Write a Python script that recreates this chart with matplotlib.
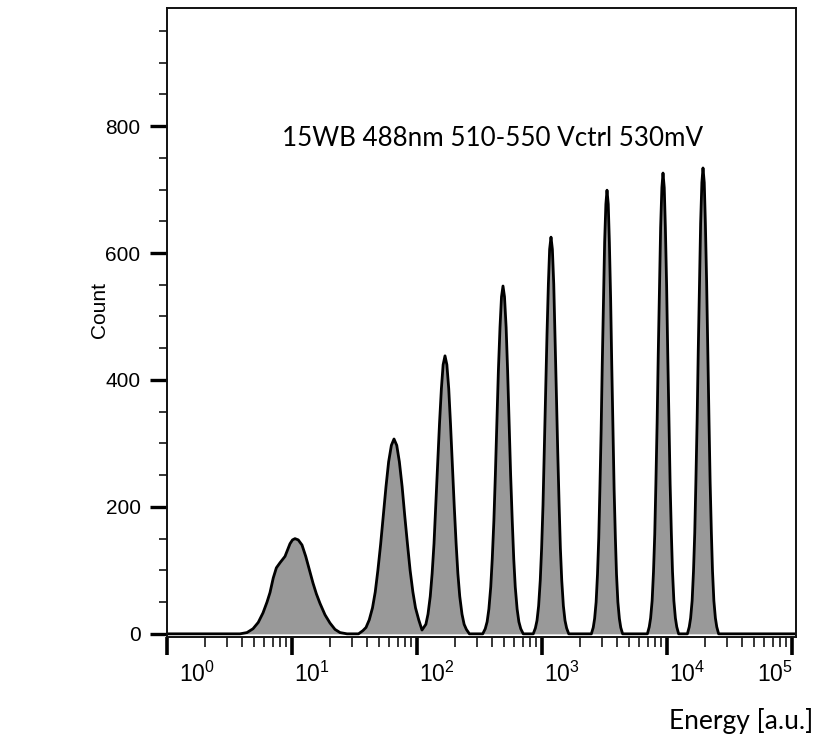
import matplotlib
matplotlib.use('Agg')
import matplotlib.pyplot as plt
import matplotlib.transforms as mtransforms
from matplotlib.ticker import MultipleLocator, LogLocator, NullFormatter
import numpy as np

# histogram outline, one list per peak:
# x in decades (log10 energy), y in counts
p1_x = [0.000, 0.584, 0.640, 0.688, 0.730, 0.768, 0.800, 0.824, 0.850, 0.875, 0.904,
        0.944, 0.984, 1.004, 1.024, 1.050, 1.080, 1.110, 1.140, 1.168, 1.195,
        1.224, 1.264, 1.304, 1.344, 1.384, 1.440]
p1_y = [0, 0, 2, 8, 18, 33, 50, 65, 88, 104, 112,
        122, 142, 148, 150, 148, 140, 122, 100, 80, 63,
        48, 30, 17, 7, 2, 0]

p2_x = [1.532, 1.567, 1.592, 1.618, 1.644, 1.666, 1.687, 1.709, 1.730, 1.752, 1.773, 1.795,
        1.816, 1.838, 1.859, 1.881, 1.902, 1.924, 1.945, 1.967, 1.988, 2.014, 2.040]
p2_y = [0, 5, 10, 22, 41, 66, 100, 141, 186, 232, 271, 297,
        307, 297, 271, 232, 186, 141, 100, 66, 41, 22, 6]

p3_x = [2.071, 2.088, 2.106, 2.121, 2.136, 2.150, 2.165, 2.180, 2.195, 2.209,
        2.224, 2.239, 2.254, 2.268, 2.283, 2.298, 2.313, 2.327, 2.342, 2.360, 2.377, 2.395, 2.419]
p3_y = [15, 31, 59, 95, 142, 201, 266, 331, 386, 424,
        438, 424, 386, 331, 266, 201, 142, 95, 59, 31, 15, 7, 0]

p4_x = [2.526, 2.546, 2.561, 2.575, 2.590, 2.602, 2.615, 2.627, 2.639, 2.651, 2.664, 2.676,
        2.688, 2.700, 2.713, 2.725, 2.737, 2.749, 2.762, 2.774, 2.786, 2.801, 2.815, 2.830, 2.850]
p4_y = [0, 8, 19, 39, 74, 118, 178, 251, 333, 414, 483, 531,
        548, 531, 483, 414, 333, 251, 178, 118, 74, 39, 19, 8, 0]

p5_x = [2.930, 2.947, 2.960, 2.973, 2.986, 2.997, 3.008, 3.018, 3.029, 3.040, 3.051, 3.061,
        3.072, 3.083, 3.094, 3.104, 3.115, 3.126, 3.137, 3.147, 3.158, 3.171, 3.184, 3.197, 3.214]
p5_y = [0, 9, 21, 44, 84, 135, 203, 286, 379, 472, 551, 606,
        625, 606, 551, 472, 379, 286, 203, 135, 84, 44, 21, 9, 0]

p6_x = [3.395, 3.410, 3.421, 3.433, 3.444, 3.454, 3.463, 3.473, 3.482, 3.492, 3.501, 3.511,
        3.520, 3.530, 3.539, 3.549, 3.558, 3.568, 3.577, 3.587, 3.596, 3.607, 3.619, 3.630, 3.645]
p6_y = [0, 10, 24, 50, 94, 151, 227, 320, 424, 528, 617, 677,
        699, 677, 617, 528, 424, 320, 227, 151, 94, 50, 24, 10, 0]

p7_x = [3.843, 3.858, 3.869, 3.881, 3.892, 3.902, 3.911, 3.921, 3.930, 3.940, 3.949, 3.959,
        3.968, 3.978, 3.987, 3.997, 4.006, 4.016, 4.025, 4.035, 4.044, 4.055, 4.067, 4.078, 4.093]
p7_y = [0, 11, 25, 52, 98, 157, 236, 333, 441, 548, 640, 703,
        726, 703, 640, 548, 441, 333, 236, 157, 98, 52, 25, 11, 0]

p8_x = [4.163, 4.178, 4.189, 4.201, 4.212, 4.222, 4.231, 4.241, 4.250, 4.260, 4.269, 4.279,
        4.288, 4.298, 4.307, 4.317, 4.326, 4.336, 4.345, 4.355, 4.364, 4.375, 4.387, 4.398, 4.413,
        5.032]
p8_y = [0, 11, 25, 52, 99, 159, 239, 336, 446, 554, 647, 711,
        734, 711, 647, 554, 446, 336, 239, 159, 99, 52, 25, 11, 0,
        0]

decades = [0, 1, 2, 3, 4, 5]
y_major = [0, 200, 400, 600, 800]

title_text = '15WB 488nm 510-550 Vctrl 530mV'
x_text = 'Energy [a.u.]'
y_text = 'Count'

plt.rcParams['font.family'] = 'Liberation Sans'
plt.rcParams['mathtext.fontset'] = 'custom'
plt.rcParams['mathtext.rm'] = 'Liberation Sans'
plt.rcParams['mathtext.default'] = 'regular'

log_energy = np.concatenate([p1_x, p2_x, p3_x, p4_x, p5_x, p6_x, p7_x, p8_x])
count = np.concatenate([p1_y, p2_y, p3_y, p4_y, p5_y, p6_y, p7_y, p8_y])
energy = np.power(10.0, log_energy)

fig = plt.figure(figsize=(8.17, 7.36), dpi=100)
ax = fig.add_axes([0.2044, 0.1345, 0.7699, 0.8546])

ax.fill_between(energy, count, 0, color='#999999', linewidth=0)
ax.plot(energy, count, color='black', linewidth=2.0, solid_joinstyle='round')

ax.set_xscale('log')
ax.set_xlim(1, 10 ** 5.032)
ax.set_ylim(-5, 986)

for side in ['left', 'right', 'top', 'bottom']:
    ax.spines[side].set_linewidth(1.4)
    ax.spines[side].set_color('#111111')

# y ticks
ax.yaxis.set_minor_locator(MultipleLocator(50))
ax.set_yticks(y_major)
ax.set_yticklabels([str(v) for v in y_major])
ax.tick_params(axis='y', which='major', direction='out', length=12, width=2.4,
               labelsize=15, pad=7)
ax.tick_params(axis='y', which='minor', direction='out', length=6, width=1.1)

# x ticks (labels placed by hand below)
ax.xaxis.set_major_locator(LogLocator(base=10, numticks=10))
ax.xaxis.set_minor_locator(LogLocator(base=10, subs=np.arange(2, 10), numticks=20))
ax.xaxis.set_major_formatter(NullFormatter())
ax.xaxis.set_minor_formatter(NullFormatter())
ax.tick_params(axis='x', which='major', direction='out', length=13, width=2.6)
ax.tick_params(axis='x', which='minor', direction='out', length=7, width=1.1)
ax.tick_params(top=False, right=False, which='both')

blend = mtransforms.blended_transform_factory(ax.transData, ax.transAxes)
for n in decades:
    if n == 0:
        dx, ha = 12, 'left'
    elif n == decades[-1]:
        dx, ha = 1, 'right'
    else:
        dx, ha = 2, 'left'
    off = mtransforms.ScaledTranslation(dx / 100, -25 / 100, fig.dpi_scale_trans)
    ax.text(10.0 ** n, 0, r'$10^{%d}$' % n, transform=blend + off,
            ha=ha, va='top', fontsize=16.5)

ax.text(0.518, 0.793, title_text, transform=ax.transAxes, ha='center',
        va='center', fontsize=18.7, family='Lato')
fig.text(100 / 817, 1 - 310 / 736, y_text, rotation=90, ha='center',
         va='center', fontsize=15)
fig.text(813 / 817, 1 - 721 / 736, x_text, ha='right', va='center',
         fontsize=19, family='Lato')

fig.savefig('out.png', dpi=100)
